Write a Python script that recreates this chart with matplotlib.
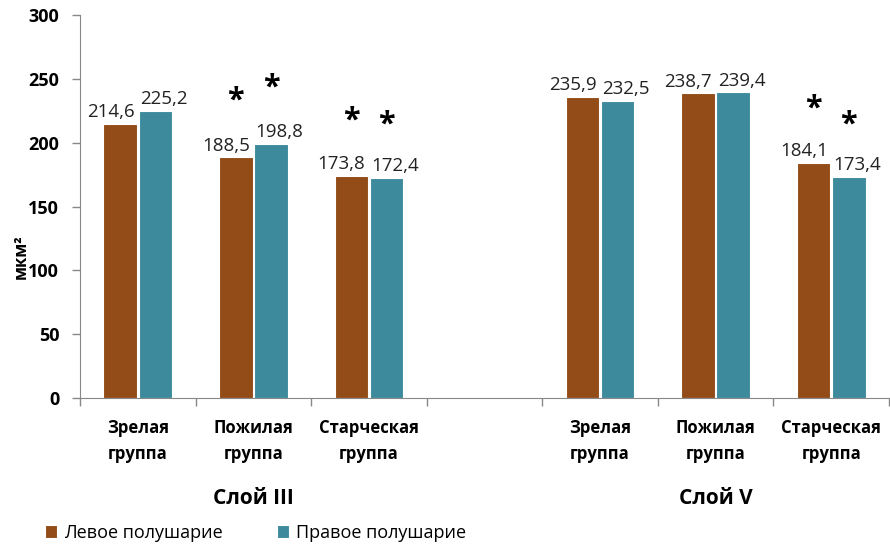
import matplotlib
matplotlib.use('Agg')
import matplotlib.pyplot as plt
import numpy as np

plt.rcParams['font.family'] = ['Open Sans', 'DejaVu Sans']

# данные
categories = ['Зрелая\nгруппа', 'Пожилая\nгруппа', 'Старческая\nгруппа', '',
              'Зрелая\nгруппа', 'Пожилая\nгруппа', 'Старческая\nгруппа']
left_hemi = [214.6, 188.5, 173.8, np.nan, 235.9, 238.7, 184.1]
right_hemi = [225.2, 198.8, 172.4, np.nan, 232.5, 239.4, 173.4]
# звездочки (высота в единицах оси, nan - нет)
left_star = [np.nan, 232.6, 217.7, np.nan, np.nan, np.nan, 227.0]
right_star = [np.nan, 243.5, 213.8, np.nan, np.nan, np.nan, 213.8]
groups = ['Слой III', 'Слой V']
group_pos = [1, 5]
series_names = ['Левое полушарие', 'Правое полушарие']

brown = '#934C18'
teal = '#3C8A9C'

fig = plt.figure(figsize=(8.9, 5.46), dpi=100)
ax = fig.add_axes([0.0899, 0.271, 0.909, 0.7015])

x = np.arange(len(categories))
w = 0.29
off = 0.152
b1 = ax.bar(x - off, left_hemi, w, color=brown, edgecolor='white', linewidth=0.8,
            label=series_names[0])
b2 = ax.bar(x + off, right_hemi, w, color=teal, edgecolor='white', linewidth=0.8,
            label=series_names[1])

for i in range(len(x)):
    if not np.isnan(left_hemi[i]):
        ax.annotate('{:.1f}'.format(left_hemi[i]).replace('.', ','),
                    (x[i] - off, left_hemi[i]), xytext=(-7, 2),
                    textcoords='offset points', ha='center', va='bottom',
                    fontsize=13.5, color='#222222')
        ax.annotate('{:.1f}'.format(right_hemi[i]).replace('.', ','),
                    (x[i] + off, right_hemi[i]), xytext=(6, 2),
                    textcoords='offset points', ha='center', va='bottom',
                    fontsize=13.5, color='#222222')
    if not np.isnan(left_star[i]):
        ax.text(x[i] - off, left_star[i], '*', ha='center', va='center',
                fontsize=22, fontweight='bold')
    if not np.isnan(right_star[i]):
        ax.text(x[i] + off, right_star[i], '*', ha='center', va='center',
                fontsize=22, fontweight='bold')

ax.set_xlim(-0.5, len(categories) - 0.5)
ax.set_ylim(0, 300)
ax.set_yticks(np.arange(0, 301, 50))
ax.tick_params(axis='y', labelsize=13, length=6, color='#888888', width=1, pad=9)
for t in ax.get_yticklabels():
    t.set_fontweight('bold')

ax.set_xticks(x)
ax.set_xticklabels(categories, fontsize=12, fontweight='bold', linespacing=1.55)
ax.tick_params(axis='x', length=0, pad=15)
ax.set_xticks(np.arange(-0.5, len(categories), 1), minor=True)
ax.tick_params(axis='x', which='minor', length=6, color='#888888', width=1)

for s in ['top', 'right']:
    ax.spines[s].set_visible(False)
ax.spines['left'].set_color('#888888')
ax.spines['bottom'].set_color('#888888')

ax.set_ylabel('мкм²', fontsize=12, fontweight='bold')
ax.yaxis.set_label_coords(-0.062, 0.37)

for g, p in zip(groups, group_pos):
    ax.text(p, -78.5, g, ha='center', va='center', fontsize=15, fontweight='bold',
            transform=ax.transData, clip_on=False)

fig.legend(handles=[b1, b2], loc='center left', bbox_to_anchor=(0.032, 0.024),
           ncol=2, frameon=False, fontsize=13, handlelength=0.7,
           handleheight=0.7, handletextpad=0.35, columnspacing=3.0)

plt.savefig('out.png', dpi=100)
